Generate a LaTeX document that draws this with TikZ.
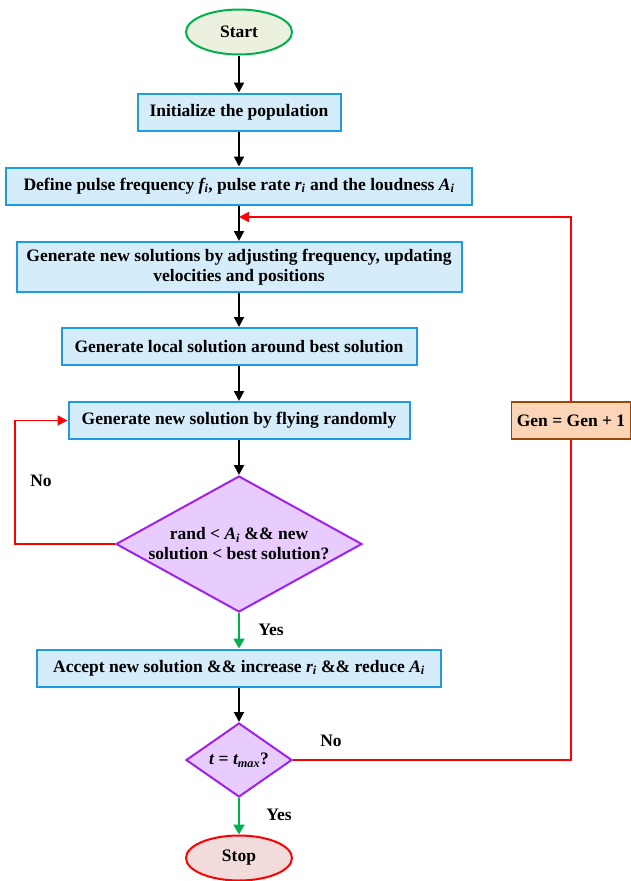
\documentclass[tikz,border=0pt]{standalone}
\usepackage{fontspec}
\setmainfont{Liberation Serif}
\usetikzlibrary{shapes.geometric,arrows.meta}
\definecolor{boxfill}{HTML}{D5ECFB}
\definecolor{boxline}{HTML}{1E9BE6}
\definecolor{dfill}{HTML}{E8CCFF}
\definecolor{dline}{HTML}{A020F0}
\definecolor{gfill}{HTML}{EBF1DE}
\definecolor{gline}{HTML}{00B050}
\definecolor{sfill}{HTML}{F2DCDB}
\definecolor{sline}{HTML}{FF0000}
\definecolor{ofill}{HTML}{FBD5B5}
\definecolor{oline}{HTML}{984807}
\definecolor{garrow}{HTML}{00B050}
\begin{document}
\begin{tikzpicture}[x=1pt,y=-1pt,
  every node/.style={font=\fontsize{17.5}{20}\selectfont\bfseries},
  procbox/.style={draw=boxline,fill=boxfill,line width=2pt,minimum height=37pt,inner sep=0pt,align=center},
  decision/.style={diamond,draw=dline,fill=dfill,line width=2pt,inner sep=0pt,align=center},
  term/.style={ellipse,line width=2pt,minimum width=106pt,minimum height=45pt,inner sep=0pt},
  arr/.style={line width=2pt,-{Triangle[length=10pt,width=10pt]}},
  redarr/.style={draw=red,line width=1.8pt,-{Triangle[length=10pt,width=10pt]}},
  grarr/.style={draw=garrow,fill=garrow,line width=2pt,-{Triangle[length=10pt,width=11pt]}},
  lbl/.style={font=\fontsize{17.5}{20}\selectfont\bfseries}]
\useasboundingbox (0,0) rectangle (630,881);
\node[term,draw=gline,fill=gfill] (start) at (239,32) {Start};
\node[procbox,minimum width=203pt] (init) at (239,112) {Initialize the population};
\node[procbox,minimum width=466pt] (def) at (239,186) {Define pulse frequency \textit{f\textsubscript{i}}, pulse rate \textit{r\textsubscript{i}} and the loudness \textit{A\textsubscript{i}}};
\node[procbox,minimum width=445pt,minimum height=50pt] (gen) at (239,267) {Generate new solutions by adjusting frequency, updating\\velocities and positions};
\node[procbox,minimum width=355pt] (loc) at (239,346.5) {Generate local solution around best solution};
\node[procbox,minimum width=341pt] (fly) at (239,420.5) {Generate new solution by flying randomly};
\node[decision,minimum width=246pt,minimum height=136pt,shape aspect=1.81] (d1) at (239,544) {rand < \textit{A\textsubscript{i}} \&\& new\\solution < best solution?};
\node[procbox,minimum width=404pt] (acc) at (239,668) {Accept new solution \&\& increase \textit{r\textsubscript{i}} \&\& reduce \textit{A\textsubscript{i}}};
\node[decision,minimum width=106pt,minimum height=74pt,shape aspect=1.43] (d2) at (239,760) {\textit{t} = \textit{t\textsubscript{max}}?};
\node[term,draw=sline,fill=sfill] (stop) at (239,858) {Stop};
\node[draw=oline,fill=ofill,line width=1.8pt,minimum width=119pt,minimum height=37pt,inner sep=0pt] (upd) at (571,420.5) {Gen = Gen + 1};
\coordinate (join) at (239,217);
\draw[arr] (start) -- (init);
\draw[arr] (init) -- (def);
\draw[arr] (def) -- (gen);
\draw[arr] (gen) -- (loc);
\draw[arr] (loc) -- (fly);
\draw[arr] (fly) -- (d1);
\draw[grarr] (d1) -- (acc);
\draw[arr] (acc) -- (d2);
\draw[grarr] (d2) -- (stop);
\draw[redarr] (d1.west) -| (15,420.5) -- (fly.west);
\draw[draw=red,line width=1.8pt] (d2.east) -| (upd.south);
\draw[redarr] (upd.north) |- (join);
\node[lbl] (no1) at (41,481) {No};
\node[lbl] (yes1) at (271,630) {Yes};
\node[lbl] (no2) at (331,741) {No};
\node[lbl] (yes2) at (279,815) {Yes};
\end{tikzpicture}
\end{document}
